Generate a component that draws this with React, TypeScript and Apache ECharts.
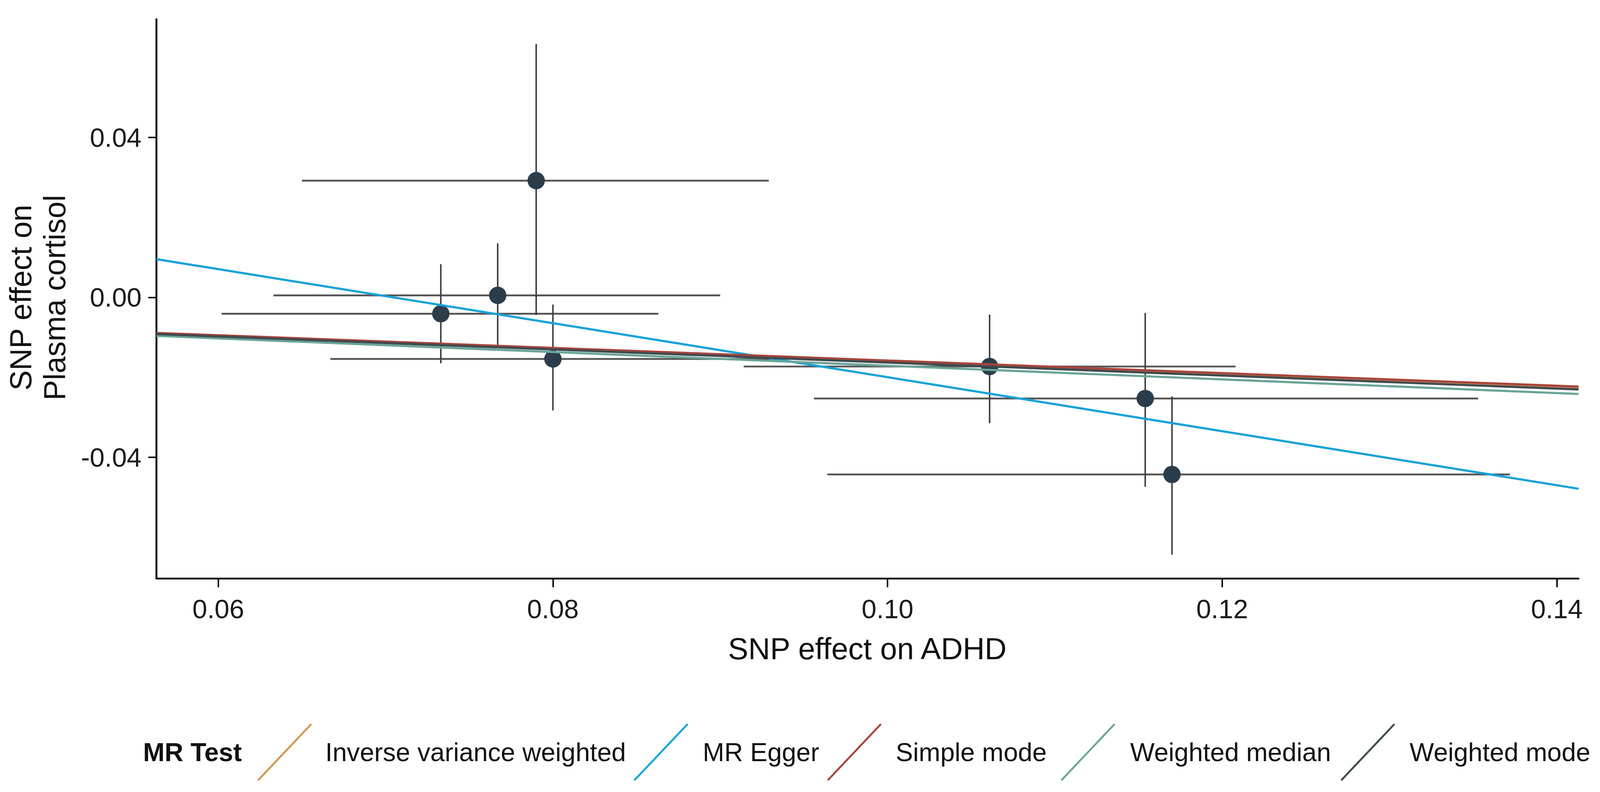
import React, { useEffect, useRef, useState } from "react";
import * as echarts from "echarts";

// ---- data ----
const xTicks = [0.06, 0.08, 0.1, 0.12, 0.14];
const yTicks = [-0.04, 0, 0.04];
const xRange = [0.0563, 0.1413];
const yRange = [-0.0703, 0.0696];

const snpX = [0.0733, 0.0767, 0.079, 0.08, 0.1061, 0.1154, 0.117];
const snpY = [-0.0041, 0.0005, 0.0292, -0.0154, -0.0173, -0.0253, -0.0443];
const xLow = [0.0602, 0.0633, 0.065, 0.0667, 0.0914, 0.0956, 0.0964];
const xHigh = [0.0863, 0.09, 0.0929, 0.0933, 0.1208, 0.1353, 0.1372];
const yLow = [-0.0165, -0.012, -0.0044, -0.0283, -0.0315, -0.0474, -0.0644];
const yHigh = [0.0083, 0.0135, 0.0634, -0.0018, -0.0043, -0.0039, -0.0248];

const methods = [
  "Inverse variance weighted",
  "MR Egger",
  "Simple mode",
  "Weighted median",
  "Weighted mode",
];
const slopes = [-0.159, -0.6757, -0.158, -0.171, -0.163];
const intercepts = [0, 0.0476, 0, 0, 0];

const xTitle = "SNP effect on ADHD";
const yTitle = "SNP effect on\nPlasma cortisol";
const legendTitle = "MR Test";

// ---- styles / layout (in reference pixels, 4328 x 2028) ----
const methodColors = ["#D4954F", "#17A3D8", "#A8453C", "#6AA598", "#3F4A50"];
const FONT = '"Liberation Sans", Arial, Helvetica, sans-serif';
const W = 4328;
const H = 2028;
const legendKeyX = [698, 1716, 2239, 2871, 3628];
const legendTextX = [880, 1901, 2423, 3057, 3813];
const legendY = 1926;
const keySize = 144;

function errorBarSeries(data: number[][], color: string, width: number) {
  return {
    type: "custom",
    silent: true,
    z: 2,
    renderItem: (params: any, api: any) => {
      const a = api.coord([api.value(0), api.value(1)]);
      const b = api.coord([api.value(2), api.value(3)]);
      return {
        type: "line",
        shape: { x1: a[0], y1: a[1], x2: b[0], y2: b[1] },
        style: { stroke: color, lineWidth: width },
      };
    },
    data,
  };
}

function getViewport() {
  const vw = document.documentElement.clientWidth || window.innerWidth || W;
  const vh = window.innerHeight || document.documentElement.clientHeight || H;
  return { vw, vh };
}

export default function App() {
  const ref = useRef<HTMLDivElement>(null);
  const [size] = useState(() => getViewport());

  useEffect(() => {
    if (!ref.current) return;
    const chart = echarts.init(ref.current, null, { renderer: "svg" });
    const sx = size.vw / W;
    const sy = size.vh / H;
    const fs = Math.min(sx, sy);
    const X = (v: number) => v * sx;
    const Y = (v: number) => v * sy;

    const hBars = snpX.map((_, i) => [xLow[i], snpY[i], xHigh[i], snpY[i]]);
    const vBars = snpX.map((x, i) => [x, yLow[i], x, yHigh[i]]);
    const points = snpX.map((x, i) => [x, snpY[i]]);

    const lineSeries = methods.map((m, i) => ({
      type: "line",
      name: m,
      symbol: "none",
      silent: true,
      z: 4,
      lineStyle: { color: methodColors[i], width: 6 * fs },
      data: [
        [xRange[0], intercepts[i] + slopes[i] * xRange[0]],
        [xRange[1], intercepts[i] + slopes[i] * xRange[1]],
      ],
    }));

    const legendGraphics: any[] = [
      {
        type: "text",
        x: X(387),
        y: Y(legendY),
        style: {
          text: legendTitle,
          fontFamily: FONT,
          fontSize: 70 * fs,
          fontWeight: "bold",
          fill: "#111",
          align: "left",
          verticalAlign: "middle",
        },
      },
    ];
    methods.forEach((m, i) => {
      legendGraphics.push({
        type: "line",
        shape: {
          x1: X(legendKeyX[i]),
          y1: Y(legendY + keySize / 2),
          x2: X(legendKeyX[i] + keySize),
          y2: Y(legendY - keySize / 2),
        },
        style: { stroke: methodColors[i], lineWidth: 5 * fs },
      });
      legendGraphics.push({
        type: "text",
        x: X(legendTextX[i]),
        y: Y(legendY),
        style: {
          text: m,
          fontFamily: FONT,
          fontSize: 70 * fs,
          fill: "#111",
          align: "left",
          verticalAlign: "middle",
        },
      });
    });

    const option: any = {
      animation: false,
      backgroundColor: "#ffffff",
      grid: {
        left: X(423),
        top: Y(49),
        right: X(W - 4270),
        bottom: Y(H - 1481),
        containLabel: false,
      },
      xAxis: {
        type: "value",
        min: xRange[0],
        max: xRange[1],
        axisLine: { show: true, onZero: false, lineStyle: { color: "#000", width: 5 * fs } },
        axisTick: {
          show: true,
          length: 24 * fs,
          lineStyle: { color: "#000", width: 4 * fs },
          customValues: xTicks,
        },
        axisLabel: {
          show: true,
          margin: 46 * fs,
          fontSize: 72 * fs,
          fontFamily: FONT,
          color: "#1a1a1a",
          customValues: xTicks,
          formatter: (v: number) => v.toFixed(2),
        },
        splitLine: { show: false },
      },
      yAxis: {
        type: "value",
        min: yRange[0],
        max: yRange[1],
        axisLine: { show: true, onZero: false, lineStyle: { color: "#000", width: 5 * fs } },
        axisTick: {
          show: true,
          length: 22 * fs,
          lineStyle: { color: "#000", width: 4 * fs },
          customValues: yTicks,
        },
        axisLabel: {
          show: true,
          margin: 40 * fs,
          fontSize: 72 * fs,
          fontFamily: FONT,
          color: "#1a1a1a",
          customValues: yTicks,
          formatter: (v: number) => v.toFixed(2),
        },
        splitLine: { show: false },
      },
      series: [
        errorBarSeries(hBars, "#555555", 5 * fs),
        errorBarSeries(vBars, "#3a3a3a", 4 * fs),
        {
          type: "scatter",
          z: 3,
          silent: true,
          symbol: "circle",
          symbolSize: 47 * fs,
          itemStyle: { color: "#2B3D4B", opacity: 1 },
          data: points,
        },
        ...lineSeries,
      ],
      graphic: [
        {
          type: "text",
          x: X(2346),
          y: Y(1661),
          style: {
            text: xTitle,
            fontFamily: FONT,
            fontSize: 82 * fs,
            fill: "#111",
            align: "center",
            verticalAlign: "middle",
          },
        },
        {
          type: "text",
          x: X(102),
          y: Y(762),
          rotation: Math.PI / 2,
          style: {
            text: yTitle,
            fontFamily: FONT,
            fontSize: 82 * fs,
            lineHeight: 92 * fs,
            fill: "#111",
            align: "center",
            verticalAlign: "middle",
          },
        },
        ...legendGraphics,
      ],
    };

    chart.setOption(option);
    return () => chart.dispose();
  }, [size]);

  return (
    <div
      ref={ref}
      style={{
        position: "absolute",
        left: 0,
        top: 0,
        width: size.vw,
        height: size.vh,
        background: "#fff",
      }}
    />
  );
}
